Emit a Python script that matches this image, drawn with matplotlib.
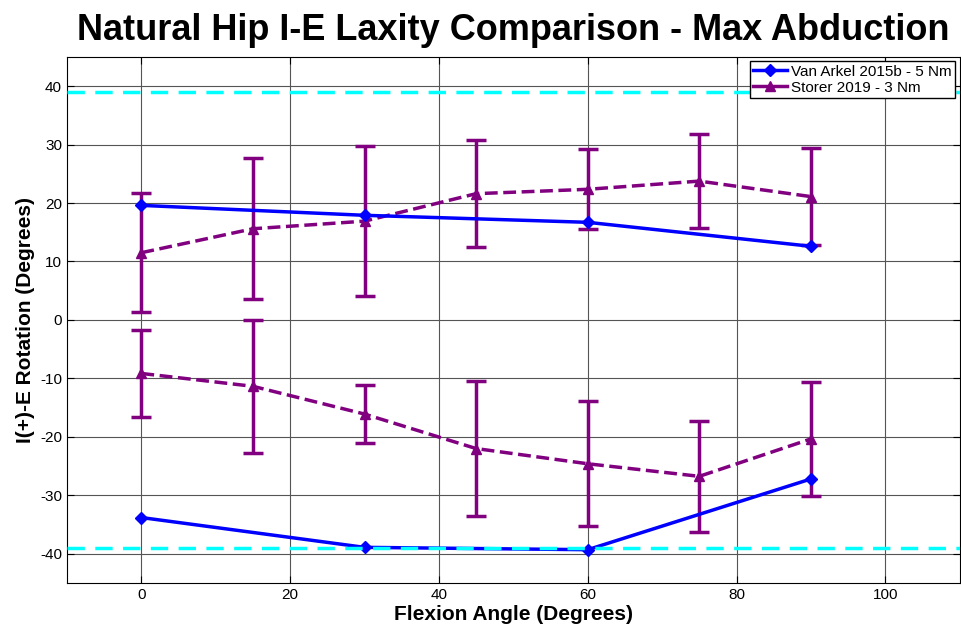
import numpy as np
import matplotlib
matplotlib.use('Agg')
import matplotlib.pyplot as plt
from matplotlib.lines import Line2D

plt.rcParams['font.family'] = ['Liberation Sans', 'DejaVu Sans']
plt.rcParams['axes.unicode_minus'] = False

# Van Arkel 2015b - 5 Nm (internal / external limits)
va_flex = [0, 30, 60, 90]
va_int = [19.6, 17.9, 16.7, 12.6]
va_ext = [-33.8, -38.9, -39.3, -27.2]

# Storer 2019 - 3 Nm, mean +/- sd
st_flex = [0, 15, 30, 45, 60, 75, 90]
st_int = [11.5, 15.6, 16.9, 21.6, 22.35, 23.75, 21.1]
st_int_sd = [10.2, 12.1, 12.8, 9.2, 6.85, 8.05, 8.35]
st_ext = [-9.15, -11.35, -16.1, -22.0, -24.6, -26.75, -20.35]
st_ext_sd = [7.45, 11.35, 5.0, 11.6, 10.7, 9.45, 9.7]

# reference limit lines
limit_lines = [39, -39]

fig = plt.figure(figsize=(9.62, 6.32), dpi=100)
ax = fig.add_axes([0.0696, 0.0775, 0.928, 0.8325])

purple = '#800080'

ax.plot(va_flex, va_int, color='blue', lw=2.5, marker='D', ms=6, zorder=4)
ax.plot(va_flex, va_ext, color='blue', lw=2.5, marker='D', ms=6, zorder=4)

ax.errorbar(st_flex, st_int, yerr=st_int_sd, color=purple, lw=2.5, ls='--', marker='^', ms=7,
            capsize=7, capthick=2.5, elinewidth=2.5, zorder=3)
ax.errorbar(st_flex, st_ext, yerr=st_ext_sd, color=purple, lw=2.5, ls='--', marker='^', ms=7,
            capsize=7, capthick=2.5, elinewidth=2.5, zorder=3)

for yl in limit_lines:
    ax.axhline(yl, color='cyan', lw=2.5, ls='--', dashes=(5, 3), zorder=5)

ax.set_xlim(-10, 110)
ax.set_ylim(-45, 45)
ax.set_xticks(np.arange(0, 101, 20))
ax.set_yticks(np.arange(-40, 41, 10))
ax.grid(True, color='#555555', lw=0.8)
ax.tick_params(direction='in', top=True, right=True, labelsize=11, length=5)

ax.set_title('Natural Hip I-E Laxity Comparison - Max Abduction', fontsize=26, fontweight='bold', pad=12)
ax.set_xlabel('Flexion Angle (Degrees)', fontsize=15, fontweight='bold', labelpad=2)
ax.set_ylabel('I(+)-E Rotation (Degrees)', fontsize=15, fontweight='bold', labelpad=4)

# legend shows just line + marker, like the original
handles = [Line2D([], [], color='blue', lw=2.5, marker='D', ms=6),
           Line2D([], [], color=purple, lw=2.5, marker='^', ms=7)]
labels = ['Van Arkel 2015b - 5 Nm', 'Storer 2019 - 3 Nm']
leg = ax.legend(handles, labels, loc='upper right', fontsize=11, fancybox=False, framealpha=1,
                edgecolor='black', borderpad=0.2, handlelength=2.2, handletextpad=0.3,
                borderaxespad=0.3, labelspacing=0.15)
leg.get_frame().set_linewidth(1.0)

fig.savefig('out.png', dpi=100)
